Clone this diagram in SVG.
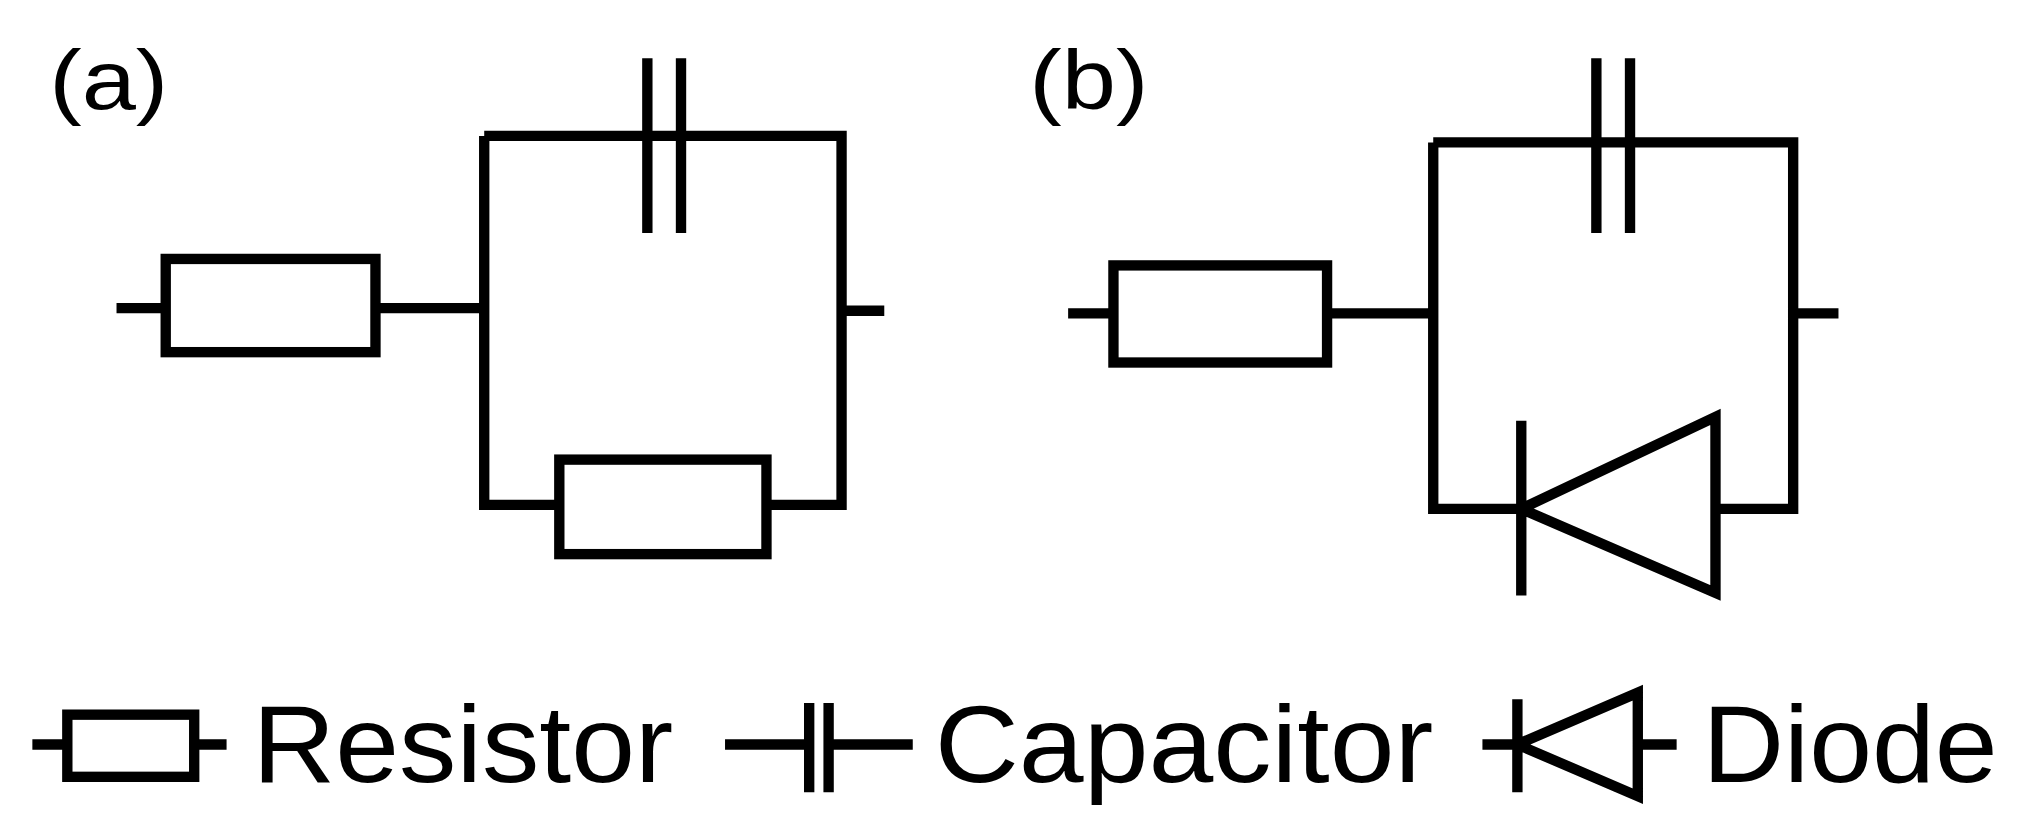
<svg xmlns="http://www.w3.org/2000/svg" width="2030" height="821" viewBox="0 0 2030 821">
<style>
.w{fill:none;stroke:#000;stroke-width:8;stroke-linecap:butt;stroke-linejoin:miter}
.t{font-family:"Liberation Sans",Arial,sans-serif;fill:#000}
</style>
<rect width="2030" height="821" fill="#fff"/>
<g transform="scale(1.2947)">
<text class="t" x="38" y="84" font-size="64" textLength="92" lengthAdjust="spacingAndGlyphs" id="label-a">(a)</text>
<text class="t" x="795" y="84" font-size="64" textLength="92" lengthAdjust="spacingAndGlyphs" id="label-b">(b)</text>
<g id="connectors" class="w">
<path d="M90 238H128M290 238H374M374 105V390H432M592 390H650V105H374M650 240H683"/>
<path d="M825 242H860M1025 242H1107M1107 110V393H1175M1325 393H1385V110H1107M1385 242H1420"/>
</g>
<g id="a-R1" class="w"><rect x="128" y="200" width="162" height="72" fill="#fff"/></g>
<g id="a-C" class="w"><path d="M500 45V180M526 45V180"/></g>
<g id="a-R2" class="w"><rect x="432" y="355" width="160" height="73" fill="#fff"/></g>
<g id="b-R" class="w"><rect x="860" y="205" width="165" height="75" fill="#fff"/></g>
<g id="b-C" class="w"><path d="M1233 45V180M1259 45V180"/></g>
<g id="b-D" class="w"><path d="M1175 325V460M1175 393L1325 322V458Z"/></g>
<g id="legend" class="w">
<path d="M25 575H52M150 575H175"/><rect x="52" y="552" width="98" height="48"/>
<path d="M560 575H625M640 575H705M625 543V612M640 543V612"/>
<path d="M1145 575H1172M1172 540V612M1172 575L1265 535V615ZM1265 575H1295"/>
</g>
<text class="t" x="195" y="604" font-size="84" textLength="325" lengthAdjust="spacingAndGlyphs">Resistor</text>
<text class="t" x="722" y="604" font-size="84" textLength="385" lengthAdjust="spacingAndGlyphs">Capacitor</text>
<text class="t" x="1315" y="604" font-size="84" textLength="228" lengthAdjust="spacingAndGlyphs">Diode</text>
</g>
</svg>
